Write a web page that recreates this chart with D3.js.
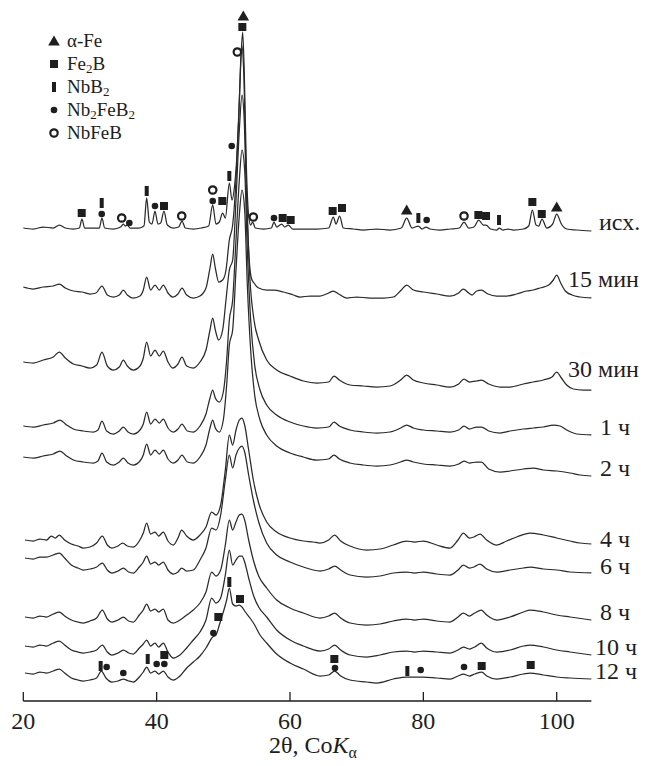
<!DOCTYPE html>
<html><head><meta charset="utf-8">
<script src="https://cdn.jsdelivr.net/npm/d3@7"></script>
<style>body{margin:0;background:#fff} svg{display:block}</style>
</head><body>
<svg id="c" width="646" height="766"></svg>
<script>
// ---- data ----
const scanLabels = ["исх.", "15 мин", "30 мин", "1 ч", "2 ч", "4 ч", "6 ч", "8 ч", "10 ч", "12 ч"];
// vertical shift of each pattern (intensity units)
const scanShift = [471, 404, 321, 269, 236, 156, 128, 81, 48, 21];
// [2θ, intensity above the pattern's own zero]
const scanIsh = [[20,2],[21.5,1],[23,3],[24.5,2],[25.4,5],[26.3,2],[27.5,1],[28.4,2],[28.8,11],[29.2,2],[30.5,2],[31.4,2],[31.8,12],[32.2,2],[33.5,1],[34.6,3],[35.0,6],[35.3,4],[35.6,5],[36.0,2],[37.3,2],[38.1,4],[38.5,32],[38.9,8],[39.3,6],[39.75,19],[40.2,6],[40.6,7],[41.1,19],[41.6,5],[42.5,2],[43.3,3],[43.8,9],[44.3,2],[45.5,1],[46.7,2],[47.8,4],[48.4,25],[48.9,6],[49.4,8],[49.9,17],[50.3,12],[50.9,47],[51.3,30],[51.7,45],[52.0,70],[52.3,110],[52.6,165],[52.9,198],[53.15,155],[53.45,65],[53.8,14],[54.1,5],[54.4,8],[54.8,2],[56,1],[57.2,2],[57.6,8],[58.0,3],[58.75,6],[59.2,3],[59.75,5],[60.4,1],[62,1],[64,1],[65.8,2],[66.5,13],[66.9,6],[67.45,14],[68.0,2],[69.5,1],[71,0],[73,1],[75,0],[76.7,2],[77.5,12],[78.3,2],[79.25,4],[79.8,1],[80.4,3],[81,1],[82.5,0],[84,1],[85.4,2],[86.1,8],[86.8,2],[87.6,3],[88.3,10],[89.0,5],[89.4,5],[90.1,1],[91.0,0],[91.4,2],[91.9,0],[92.7,1],[93.5,0],[95,1],[95.8,4],[96.35,20],[96.9,5],[97.3,4],[97.8,11],[98.5,2],[99.4,6],[100.0,16],[100.7,6],[101.5,1],[103,0],[105.2,-1]];
const scan15min = [[20,10],[21.5,8],[23,10],[24.5,11],[25.4,13],[26.3,9],[27.5,6],[28.8,5],[30,3],[30.9,4],[31.8,11],[32.6,2],[33.5,0],[34.4,2],[35.0,7],[35.6,2],[36.5,-1],[37.5,1],[38.0,7],[38.5,20],[39.1,7],[39.75,12],[40.4,7],[41.0,12],[41.7,4],[42.4,0],[43.2,3],[43.8,9],[44.5,2],[45.5,-1],[46.5,1],[47.4,9],[48.0,29],[48.4,43],[48.8,29],[49.3,15],[49.9,17],[50.4,27],[50.9,57],[51.4,72],[51.9,117],[52.4,197],[52.75,252],[53.05,227],[53.4,127],[53.8,47],[54.2,19],[54.6,14],[55.3,9],[56.5,7],[57.6,7],[59,5],[60.5,2],[61.5,0],[63,1],[64.5,1],[65.8,4],[66.5,6],[67.3,3],[68.5,-1],[70,0],[72,-1],[74,-1],[75.5,0],[76.7,7],[77.5,12],[78.5,7],[80,5],[82,3],[84,1],[85.3,4],[86.0,8],[86.8,4],[87.3,2],[88.0,6],[88.7,7],[89.7,3],[91,1],[92.5,1],[94,3],[95.5,6],[96.5,7],[97.5,9],[98.8,12],[99.5,17],[100.0,22],[100.6,14],[101.3,6],[102.3,2],[103.5,0],[105.2,-1]];
const scan30min = [[20,18],[21.5,17],[23,20],[24.5,23],[25.4,28],[26.3,22],[27.5,16],[28.8,14],[30,12],[31.0,15],[31.8,28],[32.6,14],[33.5,10],[34.4,13],[35.0,20],[35.6,14],[36.5,10],[37.5,14],[38.0,22],[38.5,38],[39.1,24],[39.75,30],[40.4,24],[41.0,29],[41.7,18],[42.4,12],[43.2,16],[43.8,23],[44.5,14],[45.5,12],[46.5,18],[47.4,30],[48.0,50],[48.4,62],[48.8,50],[49.3,40],[49.9,50],[50.4,80],[50.9,110],[51.4,120],[51.9,180],[52.4,250],[52.8,285],[53.1,265],[53.5,180],[54.0,100],[54.6,60],[55.3,40],[56.5,20],[58,10],[60,4],[62,-1],[64,-3],[65.8,-2],[66.6,4],[67.4,0],[69,-5],[71,-6],[73,-7],[75,-6],[76.6,0],[77.5,5],[78.5,0],[80,-3],[82,-5],[84,-7],[85.3,-4],[86.1,1],[86.9,-2],[88,-1],[88.7,0],[89.8,-4],[91.5,-7],[93,-7],[95,-4],[96.5,-2],[98,0],[99.3,3],[100,8],[100.7,2],[101.5,-5],[102.5,-9],[104,-10],[105.2,-10]];
const scan1h = [[20,6],[21.5,5],[23,7],[24.5,9],[25.5,12],[26.5,7],[27.5,3],[29,1],[30.5,0],[31.2,2],[31.8,11],[32.5,1],[33.5,-2],[34.4,1],[35.0,5],[35.7,0],[36.5,-2],[37.5,2],[38.0,8],[38.5,20],[39.1,8],[39.75,13],[40.4,9],[41.0,13],[41.7,4],[42.5,0],[43.2,3],[43.8,8],[44.6,1],[45.5,0],[46.5,6],[47.4,18],[48.0,34],[48.4,42],[48.8,34],[49.4,30],[50.0,40],[50.5,72],[50.9,112],[51.4,132],[51.9,192],[52.4,252],[52.8,282],[53.2,262],[53.6,182],[54.1,112],[54.7,67],[55.5,42],[56.5,27],[58,17],[60,10],[62,6],[64,4],[65.8,5],[66.6,10],[67.4,6],[69,2],[71,0],[73,-1],[75,0],[76.6,4],[77.5,7],[78.5,4],[80,2],[82,1],[84,0],[85.3,2],[86.1,6],[86.9,3],[88,5],[88.7,5],[89.8,1],[91.5,-1],[93,1],[95,3],[96.5,4],[98,5],[99.5,7],[100.5,6],[101.5,2],[103,-2],[105.2,-3]];
const scan2h = [[20,8],[21.5,7],[23,9],[24.5,11],[25.5,14],[26.5,9],[27.5,5],[29,3],[30.5,2],[31.2,4],[31.8,12],[32.5,3],[33.5,0],[34.4,3],[35.0,7],[35.7,2],[36.5,0],[37.5,4],[38.0,10],[38.5,21],[39.1,10],[39.75,15],[40.4,11],[41.0,15],[41.7,6],[42.5,2],[43.2,5],[43.8,10],[44.6,3],[45.5,2],[46.5,8],[47.4,20],[48.0,37],[48.4,45],[48.8,37],[49.4,33],[50.0,45],[50.5,80],[50.9,120],[51.4,135],[51.9,195],[52.4,250],[52.8,275],[53.2,255],[53.6,180],[54.1,115],[54.7,70],[55.5,45],[56.5,30],[58,19],[60,12],[62,8],[64,5],[65.8,6],[66.6,10],[67.4,6],[69,2],[71,0],[73,-1],[75,0],[76.6,3],[77.5,5],[78.5,3],[80,1],[82,0],[84,-1],[85.3,1],[86.1,4],[86.9,2],[88,3],[88.7,3],[89.8,-4],[91.5,-7],[93,-6],[95,-4],[96.5,-3],[98,-5],[100,-6],[102,-8],[103.5,-10],[105.2,-11]];
const scan4h = [[20.25,5],[21.5,4],[22.5,6],[23.5,5],[24.2,9],[24.8,7],[25.4,10],[26.2,5],[27.2,1],[28.2,-1],[29,-3],[30,-2],[31.0,2],[31.85,9],[32.6,0],[33.3,-3],[34.2,-1],[34.9,2],[35.6,-1],[36.5,-2],[37.4,4],[38.0,12],[38.5,22],[39.1,11],[39.75,13],[40.3,9],[41.0,13],[41.7,4],[42.5,0],[43.2,7],[43.75,15],[44.5,9],[45.5,5],[46.5,10],[47.4,18],[48.25,33],[48.9,30],[49.6,40],[50.3,75],[50.9,110],[51.4,100],[51.9,115],[52.4,125],[52.8,127],[53.2,120],[53.8,95],[54.5,65],[55.3,42],[56.5,23],[58,13],[60,7],[62,4],[63.5,3],[64.5,2],[65.8,5],[66.7,10],[67.6,4],[69,-1],[71.5,-5],[73.5,-4],[75.5,0],[77.5,4],[78.7,3],[80,4],[82,0],[84,-3],[85.2,5],[86.0,12],[86.9,7],[87.6,8],[88.5,11],[89.5,5],[91,0],[92.5,4],[94,8],[96,12],[98,10],[100,7],[102,4],[103.5,2],[105.2,1]];
const scan6h = [[20.25,15],[21.5,14],[22.5,16],[23.5,16],[24.5,18],[25.4,20],[26.2,15],[27.2,8],[28.2,5],[29,3],[30,4],[31.0,6],[31.85,10],[32.6,3],[33.3,0],[34.2,2],[35,5],[35.8,1],[36.5,0],[37.4,6],[38.0,11],[38.5,17],[39.1,9],[39.75,11],[40.3,8],[41.0,11],[41.7,3],[42.5,-1],[43.2,1],[43.75,5],[44.5,2],[45.5,3],[46.5,13],[47.4,25],[48.25,45],[48.9,43],[49.6,58],[50.3,93],[50.9,118],[51.4,105],[51.9,118],[52.4,125],[52.8,127],[53.2,121],[53.8,98],[54.5,73],[55.3,51],[56.5,30],[58,18],[60,11],[62,6],[64.5,2],[65.8,4],[66.7,7],[67.6,3],[69,-2],[71.5,-4],[73.5,-3],[75.5,0],[77.5,1],[78.7,0],[80,1],[82,-1],[84,-2],[85.2,3],[86,8],[86.9,5],[87.6,6],[88.5,9],[89.5,4],[91,1],[93,3],[95,5],[96,6],[98,4],[100,3],[102,1],[105.2,0]];
const scan8h = [[20.25,3],[21.5,2],[22.5,4],[23.5,3],[24.5,6],[25.4,8],[26.2,4],[27.2,0],[28.2,-2],[29,-3],[30,-1],[31.0,2],[31.85,10],[32.6,1],[33.3,-2],[34.2,0],[35,3],[35.8,-1],[36.5,-2],[37.4,5],[38.0,10],[38.5,16],[39.1,9],[39.75,11],[40.3,8],[41.0,11],[41.7,0],[42.5,-3],[43.5,0],[44.5,5],[45.5,10],[46.5,17],[47.4,28],[48.25,48],[48.9,44],[49.6,50],[50.3,75],[50.9,100],[51.4,90],[51.9,98],[52.4,105],[52.8,106],[53.2,100],[53.8,80],[54.5,60],[55.3,44],[56.5,32],[58,20],[60,12],[62,7],[64.5,2],[65.8,4],[66.7,7],[67.6,2],[69,-3],[71.5,-5],[73.5,-4],[75.5,-1],[77.5,1],[78.7,0],[80,1],[82,-1],[84,-2],[85.2,3],[86,7],[86.9,4],[87.7,7],[88.7,10],[89.5,5],[91,0],[93,3],[95,8],[96,10],[98,8],[100,5],[102,3],[105.2,0]];
const scan10h = [[20.25,7],[21.5,6],[22.5,8],[23.5,7],[24.5,10],[25.4,12],[26.2,8],[27.2,3],[28.2,1],[29,0],[30,1],[31.0,3],[31.85,8],[32.6,1],[33.3,-2],[34.2,0],[35,3],[35.8,0],[36.5,-1],[37.4,5],[38.0,9],[38.5,13],[39.1,7],[39.75,10],[40.3,6],[41.0,10],[41.7,1],[42.5,-5],[43.5,-2],[44.5,5],[45.5,13],[46.5,21],[47.4,33],[48.25,55],[48.9,50],[49.6,55],[50.3,78],[50.9,103],[51.4,88],[51.9,93],[52.4,97],[52.8,97],[53.2,91],[53.8,75],[54.5,58],[55.3,46],[56.5,36],[58,23],[60,13],[62,7],[64.5,2],[65.8,4],[66.7,8],[67.6,3],[69,-2],[71.5,-4],[73.5,-2],[75.5,1],[77.5,2],[78.7,1],[80,2],[82,1],[84,0],[85.2,3],[86,6],[86.9,4],[87.7,6],[88.7,10],[89.5,5],[91,1],[93,3],[95,7],[96,8],[98,6],[100,3],[102,1],[105.2,-2]];
const scan12h = [[20.25,7],[21.5,6],[22.5,8],[23.5,7],[24.5,9],[25.4,11],[26.2,7],[27.2,2],[28.2,0],[29,-1],[30,0],[31.0,2],[31.7,9],[32.4,2],[33.3,-2],[34.2,-1],[35,1],[35.8,-1],[36.5,-2],[37.4,3],[38.0,8],[38.5,13],[39.1,7],[39.75,9],[40.3,6],[41.0,9],[41.7,3],[42.5,0],[43.5,4],[44.5,12],[45.5,18],[46.5,24],[47.4,32],[48.4,43],[48.9,45],[49.4,55],[50.0,68],[50.5,80],[50.9,92],[51.4,76],[51.9,74],[52.4,75],[52.8,73],[53.3,68],[54,62],[54.7,55],[55.5,45],[56.5,37],[58,26],[60,17],[62,11],[64.5,4],[65.8,5],[66.7,9],[67.6,4],[69,0],[71.5,-2],[73,-3],[75.5,1],[77.5,3],[78.7,3],[80,3],[82,2],[84,1],[85.2,4],[86,6],[86.9,4],[87.7,6],[88.75,8],[89.5,4],[91,1],[93,3],[95,6],[96,7],[98,5],[100,3],[102,2],[105.2,1]];
const scans = [scanIsh, scan15min, scan30min, scan1h, scan2h, scan4h, scan6h, scan8h, scan10h, scan12h];

// phase markers: [2θ, intensity (absolute)]
const phaseNames = ["α-Fe", "Fe2B", "NbB2", "Nb2FeB2", "NbFeB"];
const markAlphaFe = [[53.0,685],[77.5,491],[100.0,494]];
const markFe2B = [[28.76,488],[41.1,495],[49.85,500],[52.85,674],[58.9,483],[60.1,481],[66.4,490],[67.8,493],[88.25,486],[89.4,485],[96.35,499],[97.76,487],
                  [41.15,46],[49.25,84],[52.5,102],[66.65,42],[88.75,35],[96.1,36]];
const markNbB2 = [[31.76,498],[38.51,510],[50.9,525],[79.25,483],[91.35,481],
                  [31.6,35],[38.66,42],[50.9,119],[77.6,30]];
const markNb2FeB2 = [[31.76,487],[35.9,478],[39.75,495],[48.41,500],[51.26,555],[57.6,483],[80.5,481],
                     [32.5,34],[35.0,28],[40.0,37],[41.15,37],[48.5,68],[66.75,33],[79.6,31],[86.1,34]];
const markNbFeB = [[34.76,483],[43.76,485],[48.41,511],[52.1,649],[54.5,484],[86.1,485]];
const xTicks = [20, 40, 60, 80, 100];

// ---- layout ----
const FONT = "'Liberation Serif','Times New Roman',serif";
const INK = "#1e1e1e";
const svg = d3.select("#c");
const x = d3.scaleLinear().domain([20, 100]).range([23.3, 556.7]);
const y = d3.scaleLinear().domain([0, 700]).range([701, 1]);

// patterns
const line = d3.line().x(d => x(d[0])).y(d => y(d[1])).curve(d3.curveMonotoneX);
scans.forEach((s, i) => {
  const shifted = s.map(d => [d[0], d[1] + scanShift[i]]);
  svg.append("path").attr("d", line(shifted))
    .attr("fill", "none").attr("stroke", "#2a2a2a").attr("stroke-width", 1.25)
    .attr("stroke-linejoin", "round");
});

// markers
function drawMarker(g, type, cx, cy) {
  if (type === 0) { // triangle
    g.append("path").attr("d", `M${cx},${cy-5.5}L${cx+5.8},${cy+4.5}L${cx-5.8},${cy+4.5}Z`).attr("fill", INK);
  } else if (type === 1) { // square
    g.append("rect").attr("x", cx-4).attr("y", cy-4).attr("width", 8).attr("height", 8).attr("fill", INK);
  } else if (type === 2) { // bar
    g.append("rect").attr("x", cx-2).attr("y", cy-5).attr("width", 4).attr("height", 10).attr("fill", INK);
  } else if (type === 3) { // dot
    g.append("circle").attr("cx", cx).attr("cy", cy).attr("r", 3.3).attr("fill", INK);
  } else { // ring
    g.append("circle").attr("cx", cx).attr("cy", cy).attr("r", 3.7).attr("fill", "#fff")
      .attr("stroke", INK).attr("stroke-width", 2.2);
  }
}
const mg = svg.append("g");
[markAlphaFe, markFe2B, markNbB2, markNb2FeB2, markNbFeB].forEach((arr, t) => {
  arr.forEach(d => drawMarker(mg, t, x(d[0]), y(d[1])));
});

// axis
const ag = svg.append("g").attr("transform", `translate(0,${y(0)})`);
ag.append("line").attr("x1", x(20)).attr("x2", x(105.2)).attr("stroke", INK).attr("stroke-width", 1.3);
ag.selectAll(".tk").data(xTicks).join("line").attr("x1", d => x(d)).attr("x2", d => x(d))
  .attr("y1", 0).attr("y2", -9).attr("stroke", INK).attr("stroke-width", 1.3);
ag.selectAll(".tl").data(xTicks).join("text").attr("x", d => x(d)).attr("y", 28)
  .attr("text-anchor", "middle").attr("font-family", FONT).attr("font-size", 24).attr("fill", INK)
  .text(d => d);

const title = svg.append("text").attr("x", 313).attr("y", 753).attr("text-anchor", "middle")
  .attr("font-family", FONT).attr("font-size", 24).attr("fill", INK);
title.append("tspan").text("2θ, Co");
title.append("tspan").attr("font-style", "italic").text("K");
title.append("tspan").attr("font-size", 16).attr("dy", 5).text("α");

// labels at right
const labelX = [599, 568, 568, 600, 600, 600, 600, 600, 595, 595];
const labelDy = [-1, -11, -13, 0, 0, 3, 1, 0, 0, 0];
scans.forEach((s, i) => {
  const last = s[s.length - 1];
  svg.append("text").attr("x", labelX[i]).attr("y", y(last[1] + scanShift[i]) + labelDy[i])
    .attr("font-family", FONT).attr("font-size", 24).attr("fill", INK).text(scanLabels[i]);
});

// legend
const lg = svg.append("g");
const subParts = [["α-Fe"], ["Fe", "2", "B"], ["NbB", "2"], ["Nb", "2", "FeB", "2"], ["NbFeB"]];
phaseNames.forEach((n, i) => {
  const by = 47 + i * 23;
  drawMarker(lg, i, 54, by - 6);
  const t = lg.append("text").attr("x", 67).attr("y", by).attr("font-family", FONT)
    .attr("font-size", 19).attr("fill", INK);
  subParts[i].forEach((p, k) => {
    const isSub = /^[0-9]$/.test(p);
    t.append("tspan").attr("font-size", isSub ? 13 : 19).attr("dy", isSub ? 3 : (k > 0 ? -3 : 0)).text(p);
  });
});
</script>
</body></html>
